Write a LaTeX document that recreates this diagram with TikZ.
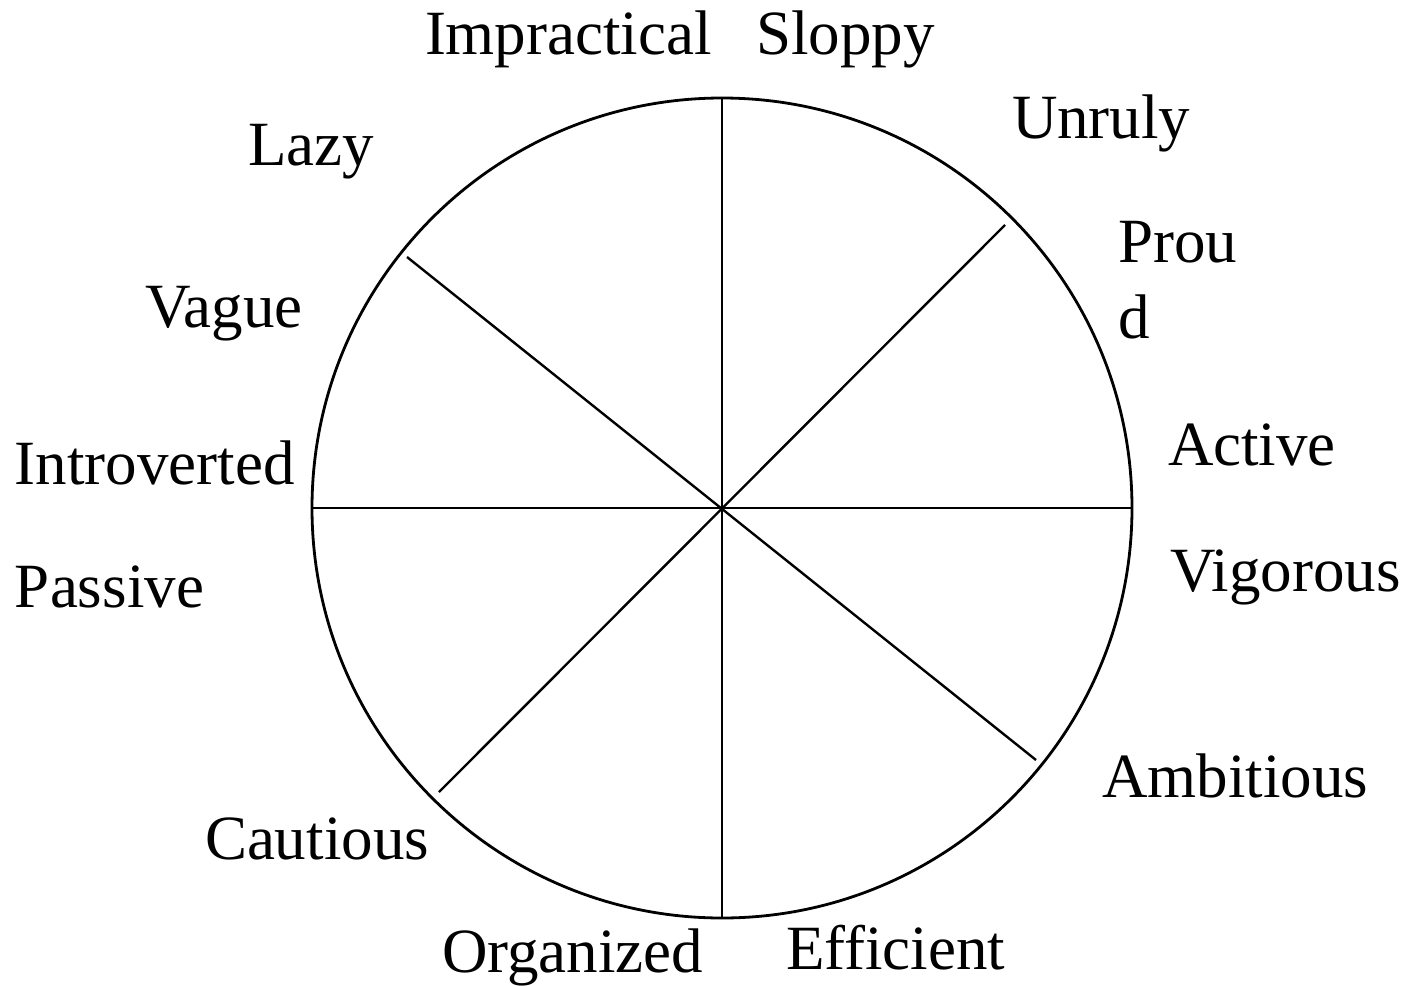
\documentclass[tikz,border=0pt]{standalone}
\usepackage{fontspec}
\setmainfont{Liberation Serif}
\begin{document}
\begin{tikzpicture}[x=0.5pt,y=-0.5pt,
  lbl/.style={inner sep=0pt,outer sep=0pt,anchor=base west,font=\fontsize{31.5}{36}\selectfont},
  ring/.style={line width=1.4pt},
  spoke/.style={line width=1.2pt}]
\useasboundingbox (0,0) rectangle (1404,986);
% wheel
\coordinate (c) at (722,508);
\draw[ring] (c) circle[radius=410];
\coordinate (top) at (722,98);
\coordinate (bot) at (722,918);
\coordinate (lft) at (312,508);
\coordinate (rgt) at (1133,508);
\coordinate (ne) at (1005,225);
\coordinate (sw) at (439,792);
\coordinate (nw) at (407,257);
\coordinate (se) at (1036,760);
\draw[spoke] (top) -- (bot);
\draw[spoke] (lft) -- (rgt);
\draw[spoke] (ne) -- (sw);
\draw[spoke] (nw) -- (se);
% adjectives around the wheel
\node[lbl] (impractical) at (425,54) {Impractical};
\node[lbl] (sloppy) at (756,54) {Sloppy};
\node[lbl] (unruly) at (1012,138) {Unruly};
\node[lbl] (lazy) at (248,165) {Lazy};
\node[lbl] (prou) at (1118,262) {Prou};
\node[lbl] (d) at (1118,338) {d};
\node[lbl] (vague) at (145,327) {Vague};
\node[lbl] (active) at (1168,465) {Active};
\node[lbl] (introverted) at (15,484) {Introverted};
\node[lbl] (vigorous) at (1170,591) {Vigorous};
\node[lbl] (passive) at (15,607) {Passive};
\node[lbl] (ambitious) at (1102,797) {Ambitious};
\node[lbl] (cautious) at (205,859) {Cautious};
\node[lbl] (organized) at (442,972) {Organized};
\node[lbl] (efficient) at (786,969) {Efficient};
\end{tikzpicture}
\end{document}
